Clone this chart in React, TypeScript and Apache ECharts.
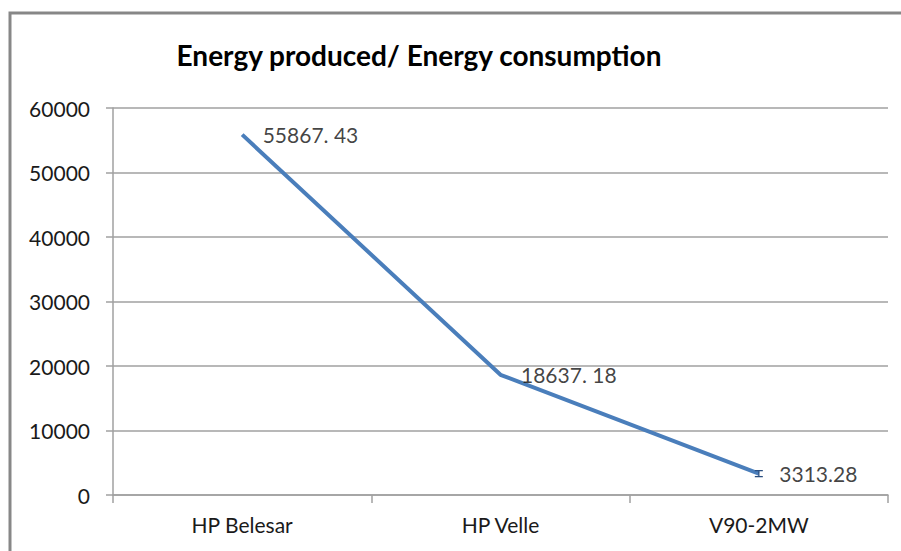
import React, { useEffect, useRef } from "react";
import * as echarts from "echarts";

const categories = ["HP Belesar", "HP Velle", "V90-2MW"];
const values = [55867.43, 18637.18, 3313.28];
const valueLabels = ["55867. 43", "18637. 18", "3313.28"];
const errorBars: [number, number, number][] = [[2, 2850, 3780]];
const yTicks = { min: 0, max: 60000, interval: 10000 };

export default function App() {
  const ref = useRef<HTMLDivElement>(null);
  useEffect(() => {
    const chart = echarts.init(ref.current!, null, { renderer: "svg" });
    const font = "Lato, 'Open Sans', sans-serif";
    chart.setOption({
      animation: false,
      backgroundColor: "#fff",
      title: {
        text: "Energy produced/ Energy consumption",
        left: 414,
        textAlign: "center",
        top: 36,
        textStyle: { fontFamily: font, fontWeight: "bold", fontSize: 28, color: "#000" },
      },
      graphic: [
        {
          type: "rect",
          shape: { x: 10, y: 13, width: 900, height: 600 },
          style: { fill: "none", stroke: "#878787", lineWidth: 3 },
          silent: true,
        },
      ],
      grid: { left: 113, right: 13, top: 108, bottom: 56, containLabel: false },
      xAxis: {
        type: "category",
        data: categories,
        boundaryGap: true,
        axisLine: { lineStyle: { color: "#a0a0a0", width: 1.5 } },
        axisTick: { show: true, length: 8, alignWithLabel: false, lineStyle: { color: "#a0a0a0", width: 1.5 } },
        axisLabel: { fontFamily: font, fontSize: 21, color: "#1a1a1a", margin: 19 },
      },
      yAxis: {
        type: "value",
        min: yTicks.min,
        max: yTicks.max,
        interval: yTicks.interval,
        axisLine: { show: true, lineStyle: { color: "#a0a0a0", width: 1.5 } },
        axisTick: { show: true, length: 7, lineStyle: { color: "#a0a0a0", width: 1.5 } },
        splitLine: { lineStyle: { color: "#a0a0a0", width: 1.5 } },
        axisLabel: {
          fontFamily: font,
          fontSize: 21,
          color: "#1a1a1a",
          margin: 23,
          formatter: (v: number) => String(v),
        },
      },
      series: [
        {
          type: "line",
          data: values,
          symbol: "none",
          lineStyle: { color: "#4A7EBB", width: 4 },
          z: 3,
        },
        {
          type: "scatter",
          data: values,
          symbol: "circle",
          symbolSize: 1,
          itemStyle: { color: "rgba(0,0,0,0)" },
          label: {
            show: true,
            position: "right",
            distance: 20,
            fontFamily: font,
            fontSize: 21,
            color: "#111",
            formatter: (p: any) => valueLabels[p.dataIndex],
          },
          z: 5,
        },
        {
          type: "custom",
          data: errorBars,
          z: 4,
          renderItem: (params: any, api: any) => {
            const x = api.coord([api.value(0), api.value(1)])[0];
            const lo = api.coord([api.value(0), api.value(1)])[1];
            const hi = api.coord([api.value(0), api.value(2)])[1];
            const w = 4;
            const style = { stroke: "#2a4f80", lineWidth: 1.3 };
            return {
              type: "group",
              children: [
                { type: "line", shape: { x1: x, y1: lo, x2: x, y2: hi }, style },
                { type: "line", shape: { x1: x - w, y1: lo, x2: x + w, y2: lo }, style },
                { type: "line", shape: { x1: x - w, y1: hi, x2: x + w, y2: hi }, style },
              ],
            };
          },
        },
      ],
    });
    return () => chart.dispose();
  }, []);
  return (
    <div
      ref={ref}
      style={{ position: "fixed", left: 0, top: 0, width: 901, height: 551 }}
    />
  );
}
